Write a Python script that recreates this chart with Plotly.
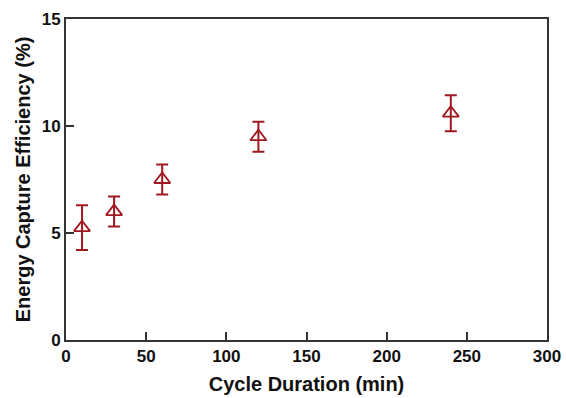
import plotly.graph_objects as go

cycle_duration = [10, 30, 60, 120, 240]
efficiency = [5.25, 6.0, 7.5, 9.5, 10.6]
efficiency_err = [1.05, 0.7, 0.7, 0.7, 0.84]

color = "#a0181f"
fig = go.Figure(go.Scatter(
    x=cycle_duration, y=efficiency, mode="markers",
    marker=dict(symbol="triangle-up-open", size=14, color=color, line=dict(width=1.8, color=color)),
    error_y=dict(type="data", array=efficiency_err, visible=True, color=color, thickness=2, width=6),
))

font_family = "Liberation Sans, Arial, sans-serif"
tick_font = dict(family=font_family, size=17, color="#111", weight="bold")
fig.update_layout(
    width=566, height=398,
    margin=dict(l=66, r=19, t=19, b=58),
    plot_bgcolor="white", paper_bgcolor="white",
    showlegend=False,
    font=dict(family=font_family, color="#111"),
)
fig.update_xaxes(
    range=[0, 300], tickvals=[0, 50, 100, 150, 200, 250, 300],
    showgrid=False, zeroline=False,
    showline=True, linecolor="#333", linewidth=2, mirror=True,
    ticks="inside", ticklen=8, tickwidth=2, tickcolor="#333",
    tickfont=tick_font,
    title=dict(text="<b>Cycle Duration (min)</b>", font=dict(size=20), standoff=12),
    automargin=False,
)
fig.update_yaxes(
    range=[0, 15], tickvals=[0, 5, 10, 15],
    showgrid=False, zeroline=False,
    showline=True, linecolor="#333", linewidth=2, mirror=True,
    ticks="inside", ticklen=8, tickwidth=2, tickcolor="#333",
    tickfont=tick_font,
    title=dict(text="<b>Energy Capture Efficiency (%)</b>", font=dict(size=20), standoff=6),
    automargin=False,
)
fig.write_html("out.html", config={"displayModeBar": False},
               post_script="document.body.style.margin='0';")
